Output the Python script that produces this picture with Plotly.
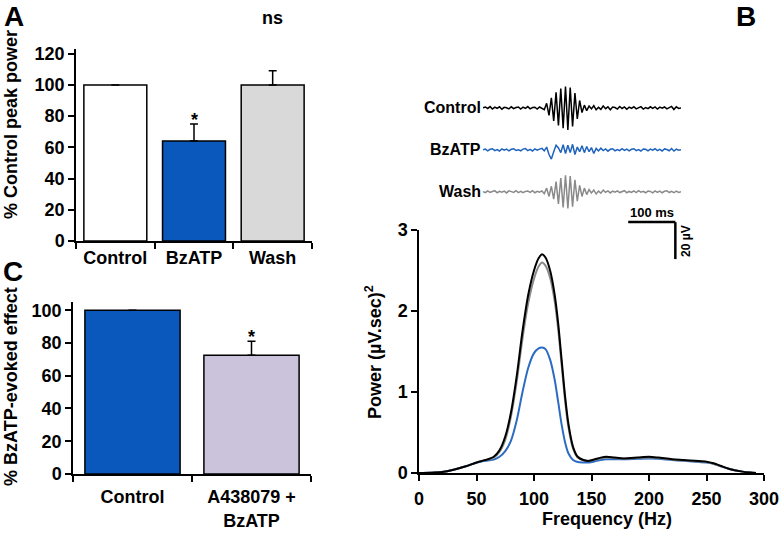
import plotly.graph_objects as go

FONT = "Liberation Sans, Arial, sans-serif"
INK = "#000000"
BAR_BLUE = "#0b58bc"
LINE_BLUE = "#2b6cc2"
GREY_LINE = "#8a8a8a"

# --- panel A: % control peak power ---
a_groups = ["Control", "BzATP", "Wash"]
a_power = [100, 64, 100]
a_err = [None, 11, 9]
a_marks = ["", "*", "ns"]
a_colors = ["#ffffff", BAR_BLUE, "#d9d9d9"]

# --- panel C: % BzATP-evoked effect ---
c_groups = ["Control", "A438079 +<br>BzATP"]
c_effect = [100, 72.5]
c_err = [None, 8.5]
c_marks = ["", "*"]
c_colors = [BAR_BLUE, "#cbc3dc"]

# --- panel B: example field potentials (uV, 5 ms steps) ---
trace_t = list(range(0, 425, 5))
ctrl_uv = [
    0.0, 0.5, -0.3, 0.7, -0.6, 0.4, -0.2, 0.6, -0.7, 0.3,
    0.1, -0.5, 0.6, -0.4, 0.2, 0.5, -0.6, 0.4, -0.3, 0.7,
    -0.5, 0.2, 0.4, -0.6, 0.5, -0.4,
    -1.0, 2.5, -4.0, 5.5, -7.0, 8.5, -9.5, 10.5, -11.0, 11.5,
    -12.0, 11.0, -10.0, 8.0, -6.0, 4.0, -2.5, 1.5,
    -1.5, 1.0, -0.5, 1.2, -1.0, 0.3, -0.8, 1.0, -0.4, 0.6,
    -1.0, 0.5, 0.2, -0.6, 0.8, -0.3, 0.5, -0.7, 0.4, -0.2,
    0.6, -0.5, 0.3, 0.7, -0.6, 0.2, -0.4, 0.6, -0.3, 0.5,
    -0.6, 0.4, -0.2, 0.5, -0.5, 0.3, 0.8, -0.9, 0.6, -0.3,
    0.0,
]
bz_uv = [
    0.0, 0.4, -0.5, 0.3, 0.6, -0.4, 0.2, -0.6, 0.5, -0.2,
    0.4, -0.5, 0.3, 0.6, -0.3, 0.1, -0.5, 0.4, 0.7, -0.4,
    0.3, -0.6, 0.5, -0.2, 0.4, 0.8,
    -0.5, 1.5, -2.5, -5.0, -1.0, 2.5, 1.0, -1.5, 2.8, -2.0,
    2.5, -1.5, 3.0, -2.5, 1.5, -1.0, 2.2, -1.5,
    1.8, -1.0, 1.2, -2.0, 0.8, -0.6, 0.9, -0.4, 0.5, -0.7,
    0.3, 0.6, -0.5, 0.2, -0.4, 0.6, -0.3, 0.4, -0.5, 0.3,
    0.6, -0.4, 0.2, -0.6, 0.5, 0.3, -0.5, 0.4, -0.2, 0.6,
    -0.4, 0.3, -0.6, 0.5, 0.2, -0.5, 0.7, -0.6, 0.4, -0.2,
    0.0,
]
wash_uv = [
    0.0, -0.4, 0.5, -0.3, 0.2, 0.6, -0.5, 0.3, -0.2, 0.4,
    -0.6, 0.5, 0.1, -0.3, 0.6, -0.4, 0.3, -0.5, 0.2, 0.4,
    -0.3, 0.6, -0.5, 0.3, -0.2, 0.5,
    -1.0, 2.0, -2.5, 3.0, -4.0, 5.5, -6.5, 7.5, -8.5, 9.0,
    -9.0, 8.5, -8.0, 6.5, -5.0, 3.5, -2.5, 2.0,
    -1.5, 1.2, -0.6, 1.0, -1.2, 0.4, -0.7, 0.9, -0.3, 0.5,
    -0.6, 0.4, -0.2, 0.5, -0.4, 0.3, 0.6, -0.5, 0.2, -0.3,
    0.5, -0.4, 0.6, -0.2, 0.3, -0.5, 0.4, 0.2, -0.6, 0.5,
    -0.3, 0.4, -0.5, 0.3, 0.6, -0.4, 0.2, -0.5, 0.4, -0.3,
    0.0,
]
trace_names = ["Control", "BzATP", "Wash"]
trace_offsets = [0, -22.7, -45.4]
trace_colors = [INK, "#1f63bd", GREY_LINE]

# --- panel B: power spectra ---
freq_hz = [0, 10, 20, 30, 40, 50, 55, 60, 65, 70, 75, 80, 85, 90, 95, 100,
           104, 107, 110, 114, 118, 121, 124, 127, 130, 134, 138, 143, 148,
           153, 158, 163, 170, 178, 190, 200, 208, 220, 230, 240, 250, 256,
           262, 270, 280, 288, 293]
power_ctrl = [0, 0.003, 0.012, 0.04, 0.08, 0.13, 0.15, 0.17, 0.2, 0.28, 0.45,
              0.75, 1.2, 1.75, 2.2, 2.5, 2.65, 2.7, 2.66, 2.5, 2.2, 1.85, 1.4,
              0.95, 0.6, 0.32, 0.2, 0.16, 0.15, 0.17, 0.19, 0.2, 0.19, 0.18,
              0.19, 0.2, 0.19, 0.17, 0.16, 0.15, 0.14, 0.12, 0.09, 0.05, 0.02,
              0.005, 0]
power_wash = [0, 0.003, 0.012, 0.04, 0.08, 0.13, 0.15, 0.165, 0.19, 0.26, 0.41,
              0.7, 1.13, 1.66, 2.1, 2.4, 2.55, 2.6, 2.56, 2.41, 2.12, 1.78, 1.34,
              0.9, 0.56, 0.3, 0.19, 0.155, 0.15, 0.165, 0.18, 0.19, 0.185, 0.175,
              0.185, 0.19, 0.185, 0.165, 0.155, 0.145, 0.135, 0.115, 0.085, 0.05,
              0.02, 0.005, 0]
power_bz = [0, 0.003, 0.012, 0.04, 0.08, 0.125, 0.145, 0.155, 0.165, 0.2, 0.27,
            0.4, 0.65, 1.0, 1.3, 1.48, 1.54, 1.55, 1.53, 1.4, 1.15, 0.88, 0.6,
            0.38, 0.24, 0.16, 0.135, 0.13, 0.13, 0.145, 0.16, 0.17, 0.17, 0.17,
            0.175, 0.18, 0.175, 0.16, 0.15, 0.14, 0.13, 0.115, 0.085, 0.05,
            0.02, 0.005, 0]


def px(x):
    return x / 780


def py(y):
    return 1 - y / 540


def bold(size):
    return {"family": FONT, "size": size, "color": INK, "weight": "bold"}


AX = dict(ticks="outside", ticklen=6, tickwidth=1.5, tickcolor=INK,
          showline=True, linecolor=INK, linewidth=1.5, showgrid=False,
          zeroline=False, tickfont=bold(18), automargin=False, fixedrange=True)


def bar_axes(xdom, ydom, yrange):
    xa = dict(AX, domain=xdom, type="category", tickson="boundaries")
    ya = dict(AX, domain=ydom, range=yrange, dtick=20)
    return xa, ya


fig = go.Figure()

fig.add_trace(go.Bar(
    x=a_groups, y=a_power, marker_color=a_colors,
    marker_line={"color": INK, "width": 1.5},
    error_y={"type": "data", "symmetric": False, "array": a_err,
             "arrayminus": [0] * len(a_err), "color": INK,
             "thickness": 1.5, "width": 4},
    xaxis="x", yaxis="y", showlegend=False,
))
fig.add_trace(go.Bar(
    x=c_groups, y=c_effect, marker_color=c_colors,
    marker_line={"color": INK, "width": 1.5},
    error_y={"type": "data", "symmetric": False, "array": c_err,
             "arrayminus": [0] * len(c_err), "color": INK,
             "thickness": 1.5, "width": 4},
    xaxis="x2", yaxis="y2", showlegend=False,
))

for name, vals, off, col in zip(trace_names, [ctrl_uv, bz_uv, wash_uv],
                                trace_offsets, trace_colors):
    fig.add_trace(go.Scatter(
        x=trace_t, y=[v + off for v in vals], mode="lines",
        line={"color": col, "width": 1.5}, xaxis="x3", yaxis="y3",
        showlegend=False,
    ))
    fig.add_annotation(text=name, x=0, y=off, xref="x3", yref="y3",
                       xanchor="right", yanchor="middle", showarrow=False,
                       font=bold(16))

for vals, col in [(power_bz, LINE_BLUE), (power_wash, GREY_LINE),
                  (power_ctrl, INK)]:
    fig.add_trace(go.Scatter(
        x=freq_hz, y=vals, mode="lines",
        line={"color": col, "width": 2, "shape": "spline", "smoothing": 0.8},
        xaxis="x4", yaxis="y4", showlegend=False,
    ))

# scale bars (100 ms, 20 uV) in trace coordinates
fig.add_shape(type="line", x0=308, x1=408, y0=-61.8, y1=-61.8,
              xref="x3", yref="y3", line={"color": INK, "width": 2.5})
fig.add_shape(type="line", x0=408, x1=408, y0=-61.8, y1=-81.8,
              xref="x3", yref="y3", line={"color": INK, "width": 2.5})
fig.add_annotation(text="100 ms", x=358, y=-61.8, xref="x3", yref="y3",
                   xanchor="center", yanchor="bottom", showarrow=False,
                   font=bold(13))
fig.add_annotation(text="20 µV", x=408, y=-71.8, xref="x3", yref="y3",
                   xanchor="left", yanchor="middle", xshift=1, textangle=-90,
                   showarrow=False, font=bold(12))

# significance marks ("*" hugs the error bar, "ns" floats high above it)
mark_shift = {"*": -8, "ns": 41}
for g, v, e, m in zip(a_groups, a_power, a_err, a_marks):
    if m:
        fig.add_annotation(text=m, x=g, y=v + e, xref="x", yref="y",
                           xanchor="center", yanchor="bottom", showarrow=False,
                           yshift=mark_shift[m], font=bold(18))
for g, v, e, m in zip(c_groups, c_effect, c_err, c_marks):
    if m:
        fig.add_annotation(text=m, x=g, y=v + e, xref="x2", yref="y2",
                           xanchor="center", yanchor="bottom", showarrow=False,
                           yshift=mark_shift[m], font=bold(18))

# axis titles and panel letters
labels = [
    ("% Control peak power", 11, 125, -90, 18),
    ("% BzATP-evoked effect", 11, 387, -90, 18),
    ("Power (µV.sec)<sup>2</sup>", 373, 352, -90, 18),
    ("Frequency (Hz)", 607, 519, 0, 18),
    ("A", 14, 17, 0, 28),
    ("B", 746, 17, 0, 28),
    ("C", 13, 271, 0, 28),
]
for text, x, y, ang, size in labels:
    fig.add_annotation(text=text, x=px(x), y=py(y), xref="paper", yref="paper",
                       xanchor="center", yanchor="middle", textangle=ang,
                       showarrow=False, font=bold(size))

xa, ya = bar_axes([px(76), px(312)], [py(241), py(49)], [0, 123])
xc, yc = bar_axes([px(73), px(311)], [py(474), py(302)], [0, 105])
xc["ticklabelstandoff"] = 6

fig.update_layout(
    width=780, height=540,
    margin={"l": 0, "r": 0, "t": 0, "b": 0},
    paper_bgcolor="white", plot_bgcolor="rgba(0,0,0,0)",
    font={"family": FONT, "color": INK},
    bargap=0.2,
    xaxis=xa, yaxis=ya,
    xaxis2={**xc, "anchor": "y2"}, yaxis2={**yc, "anchor": "x2"},
    xaxis3={"domain": [px(483), px(681)], "range": [0, 420], "visible": False,
            "anchor": "y3", "automargin": False},
    yaxis3={"domain": [py(265), py(80)], "range": [-85, 15.1], "visible": False,
            "anchor": "x3", "automargin": False},
    xaxis4=dict(AX, domain=[px(419), px(764)], range=[0, 300], dtick=50,
                ticklabelstandoff=3, anchor="y4"),
    yaxis4=dict(AX, domain=[py(473), py(230)], range=[0, 3], dtick=1,
                anchor="x4"),
)

# the page body has a default 8px margin; drop it so the figure fills the window
fig.write_html("out.html", config={"displayModeBar": False},
               post_script="document.body.style.margin = '0';")
